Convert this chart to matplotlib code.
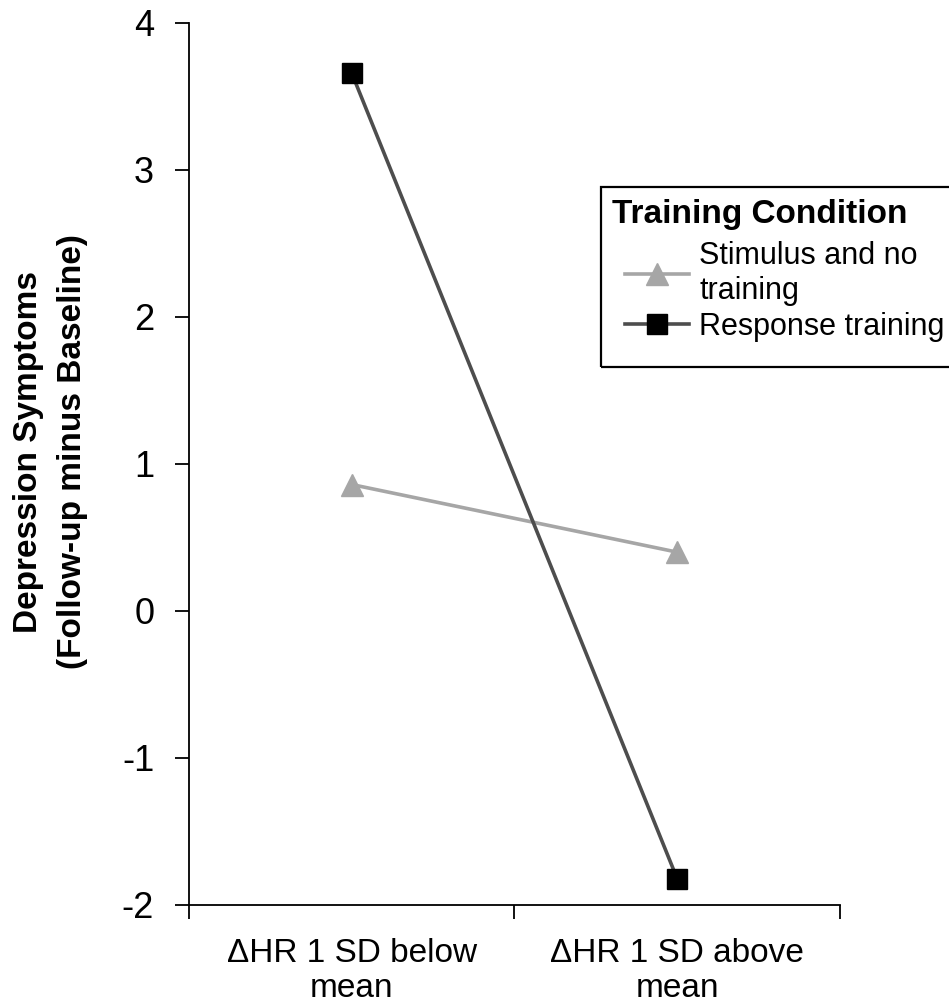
import matplotlib
matplotlib.use("Agg")
import matplotlib.pyplot as plt
from matplotlib.patches import Rectangle

plt.rcParams['font.family'] = ['Liberation Sans', 'DejaVu Sans']

# data
categories = ['\u0394HR 1 SD below\nmean', '\u0394HR 1 SD above\nmean']
stimulus = [0.86, 0.40]
response = [3.66, -1.82]
yticks = [-2, -1, 0, 1, 2, 3, 4]

fig = plt.figure(figsize=(9.49, 10.07), dpi=100)
ax = fig.add_axes([0.199, 0.1013, 0.686, 0.876])

xpos = [0.5, 1.5]
ax.plot(xpos, stimulus, color='#a6a6a6', lw=2.6, marker='^', ms=16,
        mfc='#a6a6a6', mec='#a6a6a6', label='Stimulus and no\ntraining')
ax.plot(xpos, response, color='#4d4d4d', lw=2.6, marker='s', ms=15,
        mfc='black', mec='black', label='Response training')

ax.set_xlim(0, 2)
ax.set_ylim(-2, 4)
ax.set_yticks(yticks)
ax.set_yticklabels([str(v) for v in yticks], fontsize=26)
ax.set_xticks([0, 1, 2])
ax.set_xticklabels([])
ax.set_xticks(xpos, minor=True)
ax.set_xticklabels(categories, minor=True, fontsize=24, linespacing=1.15)
ax.tick_params(axis='x', which='minor', length=0, pad=24)
ax.tick_params(axis='x', which='major', length=10, width=1.3, direction='out')
ax.tick_params(axis='y', length=10, width=1.3, direction='out', pad=15)

for s in ['top', 'right']:
    ax.spines[s].set_visible(False)
for s in ['left', 'bottom']:
    ax.spines[s].set_linewidth(1.3)

ax.set_ylabel('Depression Symptoms\n(Follow-up minus Baseline)', fontsize=24,
              fontweight='bold', linespacing=1.55)
ax.yaxis.set_label_coords(-0.155, 0.514)

# legend: title sits a bit left of the entries in the reference, so draw it apart
fig.text(612 / 949, 1 - 223 / 1007, 'Training Condition', fontsize=24,
         fontweight='bold', va='baseline', ha='left')
leg = ax.legend(loc='upper left',
                bbox_to_anchor=(625 / 949, 1 - 241 / 1007),
                bbox_transform=fig.transFigure, fontsize=22,
                frameon=False, borderpad=0,
                handlelength=2.1, handletextpad=0.33, labelspacing=0.2,
                borderaxespad=0)
for t in leg.get_texts():
    t.set_linespacing(1.2)

# legend box runs past the right edge of the figure, as in the reference
fig.patches.append(Rectangle((601 / 949, 1 - 367 / 1007), 400 / 949, 180 / 1007,
                             transform=fig.transFigure, fill=False,
                             edgecolor='black', lw=1.6))

fig.savefig('out.png', dpi=100)
